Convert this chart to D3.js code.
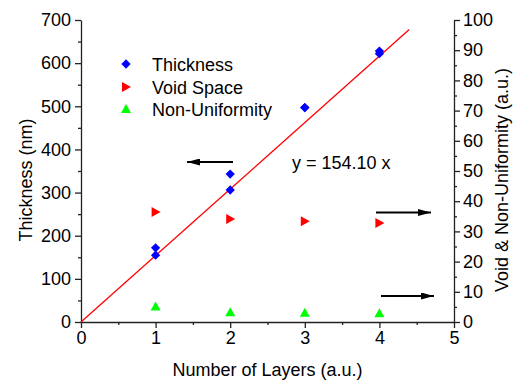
<!DOCTYPE html>
<html><head><meta charset="utf-8">
<script src="https://cdn.jsdelivr.net/npm/d3@7"></script>
<style>body{margin:0;background:#fff}text{font-family:"Liberation Sans",Arial,sans-serif}</style>
</head><body><svg id="c" width="514" height="385"></svg>
<script>
const layers = [1, 2, 3, 4];
const thicknessA = [172, 343, 497, 628];
const thicknessB = [155, 306, 497, 622];
const voidSpace = [36.4, 34.1, 33.4, 32.8];
const nonUniformity = [5.1, 3.2, 3.1, 2.9];
const slope = 154.10;
const fitRange = [0, 4.4];
const xTicks = [0, 1, 2, 3, 4, 5];
const yLeftTicks = [0, 100, 200, 300, 400, 500, 600, 700];
const yRightTicks = [0, 10, 20, 30, 40, 50, 60, 70, 80, 90, 100];

const svg = d3.select("#c");
const x = d3.scaleLinear().domain([0, 5]).range([81, 454]);
const yL = d3.scaleLinear().domain([0, 700]).range([322, 20]);
const yR = d3.scaleLinear().domain([0, 100]).range([322, 20]);
const fs = "18px";

function styleAxis(g) {
  g.selectAll(".domain").attr("stroke", "#222").attr("stroke-width", 1.3);
  g.selectAll(".tick line").attr("stroke", "#222").attr("stroke-width", 1.3);
  g.selectAll("text").attr("font-size", fs).attr("fill", "#000").attr("font-family", "Liberation Sans, Arial, sans-serif");
}
const minorX = d3.range(0.5, 5, 1);
const minorL = d3.range(50, 700, 100);
const minorR = d3.range(5, 100, 10);

const gx = svg.append("g").attr("transform", "translate(0,322)")
  .call(d3.axisBottom(x).tickValues(xTicks).tickSize(6).tickSizeOuter(0).tickPadding(3).tickFormat(d3.format("d")));
styleAxis(gx);
svg.append("g").attr("transform", "translate(0,322)")
  .call(d3.axisBottom(x).tickValues(minorX).tickSize(3).tickFormat("")).call(g => { g.select(".domain").remove(); styleAxis(g); });

const gl = svg.append("g").attr("transform", "translate(81,0)")
  .call(d3.axisLeft(yL).tickValues(yLeftTicks).tickSize(6).tickSizeOuter(0).tickPadding(4));
styleAxis(gl);
svg.append("g").attr("transform", "translate(81,0)")
  .call(d3.axisLeft(yL).tickValues(minorL).tickSize(3).tickFormat("")).call(g => { g.select(".domain").remove(); styleAxis(g); });

const gr = svg.append("g").attr("transform", "translate(454,0)")
  .call(d3.axisRight(yR).tickValues(yRightTicks).tickSize(6).tickSizeOuter(0).tickPadding(3));
styleAxis(gr);
svg.append("g").attr("transform", "translate(454,0)")
  .call(d3.axisRight(yR).tickValues(minorR).tickSize(3).tickFormat("")).call(g => { g.select(".domain").remove(); styleAxis(g); });

svg.append("text").attr("x", (x(0) + x(5)) / 2).attr("y", 376).attr("text-anchor", "middle")
  .attr("font-size", fs).text("Number of Layers (a.u.)");
svg.append("text").attr("transform", "translate(32,180) rotate(-90)").attr("text-anchor", "middle")
  .attr("font-size", fs).text("Thickness (nm)");
svg.append("text").attr("transform", "translate(508,180) rotate(-90)").attr("text-anchor", "middle")
  .attr("font-size", fs).text("Void & Non-Uniformity (a.u.)");

svg.append("line").attr("x1", x(fitRange[0])).attr("y1", yL(slope * fitRange[0]))
  .attr("x2", x(fitRange[1])).attr("y2", yL(slope * fitRange[1]))
  .attr("stroke", "#f00").attr("stroke-width", 1.3);

const diamond = d3.symbol().type(d3.symbolDiamond2).size(55);
const triRight = "M-4,-5L5,0L-4,5Z";
const triUp = "M-5,4L0,-5L5,4Z";

[thicknessA, thicknessB].forEach(arr => {
  svg.append("g").selectAll("path").data(layers).join("path")
    .attr("d", diamond).attr("fill", "#00f")
    .attr("transform", (d, i) => `translate(${x(d)},${yL(arr[i])})`);
});
svg.append("g").selectAll("path").data(layers).join("path")
  .attr("d", triRight).attr("fill", "#f00")
  .attr("transform", (d, i) => `translate(${x(d)},${yR(voidSpace[i])})`);
svg.append("g").selectAll("path").data(layers).join("path")
  .attr("d", triUp).attr("fill", "#0f0")
  .attr("transform", (d, i) => `translate(${x(d)},${yR(nonUniformity[i])})`);

const legend = [
  {label: "Thickness", d: diamond(), fill: "#00f", y: 64},
  {label: "Void Space", d: triRight, fill: "#f00", y: 87},
  {label: "Non-Uniformity", d: triUp, fill: "#0f0", y: 109}
];
const lg = svg.append("g");
legend.forEach(l => {
  lg.append("path").attr("d", l.d).attr("fill", l.fill).attr("transform", `translate(126,${l.y})`);
  lg.append("text").attr("x", 152).attr("y", l.y + 6.5).attr("font-size", fs).text(l.label);
});

svg.append("text").attr("x", 292).attr("y", 169).attr("font-size", fs).text("y = 154.10 x");

svg.append("defs").append("marker").attr("id", "ah").attr("viewBox", "0 0 13 7")
  .attr("refX", 13).attr("refY", 3.5).attr("markerWidth", 13).attr("markerHeight", 7)
  .attr("markerUnits", "userSpaceOnUse").attr("orient", "auto")
  .append("path").attr("d", "M0,0L13,3.5L0,7Z").attr("fill", "#000");
const arrows = [[233, 162, 187, 162], [376, 212.5, 431, 212.5], [381, 296, 434, 296]];
arrows.forEach(a => svg.append("line").attr("x1", a[0]).attr("y1", a[1]).attr("x2", a[2]).attr("y2", a[3])
  .attr("stroke", "#000").attr("stroke-width", 2).attr("marker-end", "url(#ah)"));
</script></body></html>
